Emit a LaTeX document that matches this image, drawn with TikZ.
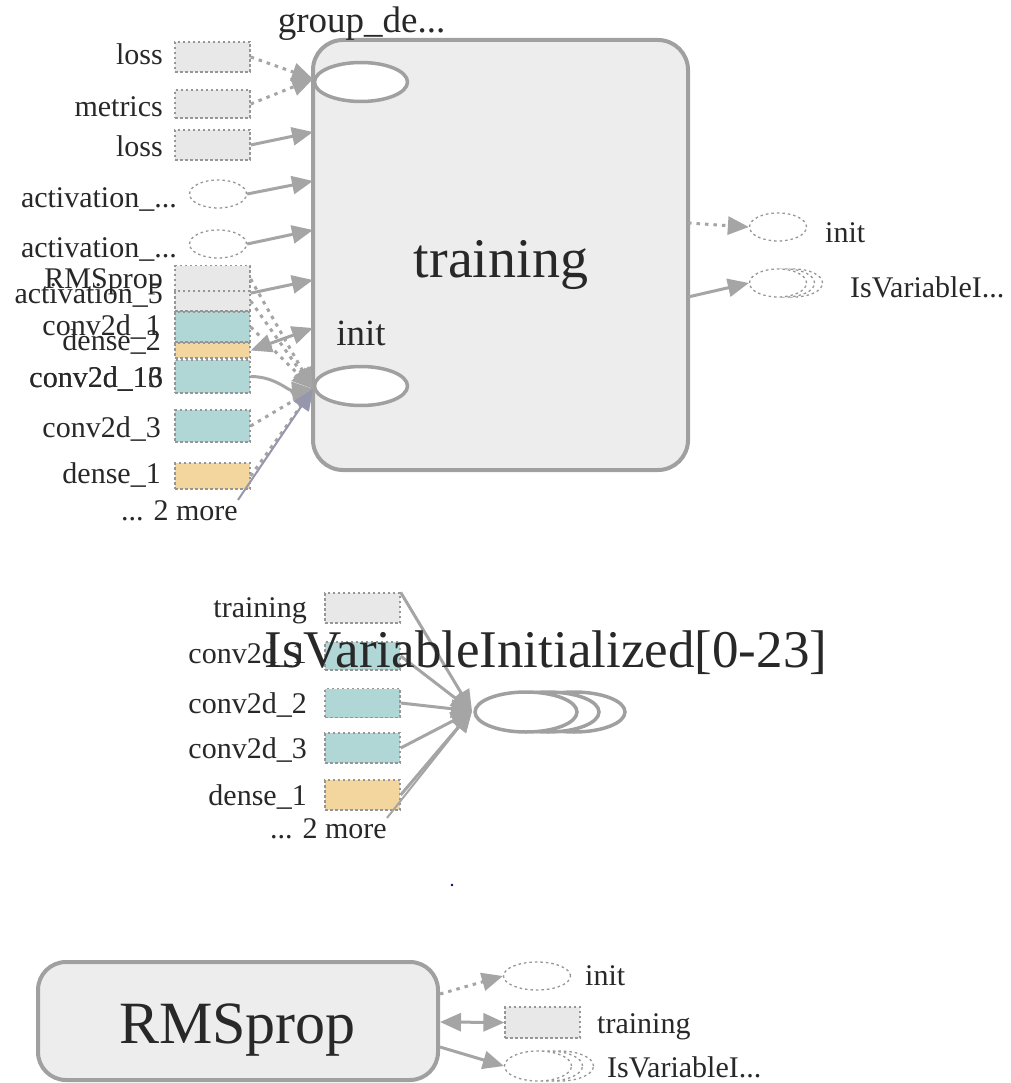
\documentclass[tikz,border=0pt]{standalone}
\usepackage{fontspec}
\setmainfont{Liberation Serif}
\usetikzlibrary{arrows.meta,shapes.geometric}

\definecolor{edgegray}{RGB}{165,165,165}
\definecolor{boxfill}{RGB}{237,237,237}
\definecolor{boxline}{RGB}{160,160,160}
\definecolor{opfill}{RGB}{232,232,232}
\definecolor{tealfill}{RGB}{176,214,214}
\definecolor{sandfill}{RGB}{243,214,158}
\definecolor{dotline}{RGB}{150,150,150}
\definecolor{ink}{RGB}{40,40,40}
\definecolor{morelink}{RGB}{150,150,172}

\begin{document}
\begin{tikzpicture}[x=1pt,y=-1pt,
  tipshape/.style={-{Triangle[length=21pt,width=18pt]}},
  bothtips/.style={{Triangle[length=21pt,width=18pt]}-{Triangle[length=21pt,width=18pt]}},
  flow/.style={draw=edgegray, line width=3pt, tipshape},
  dflow/.style={flow, dash pattern=on 3.5pt off 5pt},
  moreflow/.style={draw=morelink, line width=2pt, tipshape},
  opbox/.style={rectangle, draw=dotline, dash pattern=on 2.5pt off 2.5pt,
    line width=1.3pt, minimum width=75pt, inner sep=0pt, fill=opfill},
  tealbox/.style={opbox, fill=tealfill},
  sandbox/.style={opbox, fill=sandfill},
  opoval/.style={ellipse, draw=dotline, dash pattern=on 2.5pt off 3pt,
    line width=1.3pt, fill=white, minimum width=57pt, minimum height=28pt, inner sep=0pt},
  cluster/.style={rectangle, rounded corners=30pt, draw=boxline, line width=4pt, fill=boxfill},
  inoval/.style={ellipse, draw=boxline, line width=3.5pt, fill=white, inner sep=0pt},
  lbl/.style={font=\fontsize{30}{30}\selectfont, text=ink, inner sep=0pt},
  lblL/.style={lbl, anchor=base east},
  lblR/.style={lbl, anchor=base west},
  midlbl/.style={font=\fontsize{37}{37}\selectfont, text=ink, inner sep=0pt, anchor=base},
]
\fill[white] (0,0) rectangle (1010,1083);
\useasboundingbox (0,0) rectangle (1010,1083);

% ---------------- training cluster ----------------
\node[cluster, minimum width=375pt, minimum height=430pt] (train) at (500.5,255) {};
\node[font=\fontsize{56}{56}\selectfont, text=ink, inner sep=0pt, anchor=base] (trainlbl) at (501,277) {training};
\node[inoval, minimum width=93pt, minimum height=39pt] (grp) at (361,82) {};
\node[midlbl] (grplbl) at (361.5,33) {group\_de...};
\node[inoval, minimum width=93pt, minimum height=39pt] (ini) at (361,386) {};
\node[midlbl] (inilbl) at (361,345) {init};

% entry points on the cluster border
\coordinate (gIn) at (313,79);
\coordinate (pLoss) at (313,132);
\coordinate (pAct1) at (313,181);
\coordinate (pAct2) at (313,230);
\coordinate (pRms) at (313,280);
\coordinate (pDense) at (313,328);
\coordinate (iIn) at (313,389);
\coordinate (oInit) at (688,223);
\coordinate (oIsv) at (688,297);

% inputs on the left
\node[opbox, minimum height=30pt] (loss1) at (212.5,57) {};
\node[opbox, minimum height=28pt] (metr) at (212.5,104) {};
\node[opbox, minimum height=30pt] (loss2) at (212.5,145) {};
\node[opoval] (act1) at (218,194) {};
\node[opoval] (act2) at (218,244) {};
\node[opbox, minimum height=27pt] (rms) at (212.5,279) {};
\node[opbox, minimum height=20pt] (act5) at (212.5,301) {};
\node[tealbox, minimum height=30pt] (c1) at (212.5,327) {};
\node[sandbox, minimum height=15pt] (d2) at (212.5,350.5) {};
\node[tealbox, minimum height=33pt] (c16) at (212.5,376.5) {};
\node[tealbox, minimum height=32pt] (c3) at (212.5,426) {};
\node[sandbox, minimum height=26pt] (d1) at (212.5,476) {};

\node[lblL] (tloss1) at (163,65) {loss};
\node[lblL] (tmetr) at (163,117) {metrics};
\node[lblL] (tloss2) at (163,157) {loss};
\node[lblL] (tact1) at (177,208) {activation\_...};
\node[lblL] (tact2) at (177,257) {activation\_...};
\node[lblL] (trms) at (163,288) {RMSprop};
\node[lblL] (tact5) at (163,303) {activation\_5};
\node[lblL] (tc1) at (161,335) {conv2d\_1};
\node[lblL] (td2) at (161,350) {dense\_2};
\node[lblL] (tc16a) at (163,387) {conv2d\_16};
\node[lblL] (tc16b) at (163,387) {conv2d\_13};
\node[lblL] (tc3) at (161,437) {conv2d\_3};
\node[lblL] (td1) at (161,483) {dense\_1};
\node[lblL] (tmore) at (238,520) {... 2 more};

% connectors into the cluster
\draw[dflow] (loss1.east) -- (gIn);
\draw[dflow] (metr.east) -- (gIn);
\draw[flow] (loss2.east) -- (pLoss);
\draw[flow] (act1.east) -- (pAct1);
\draw[flow] (act2.east) -- (pAct2);
\draw[flow] (rms.south east) -- (pRms);
\draw[flow, bothtips] (d2.east) -- (pDense);
\draw[dflow] (rms.east) -- (iIn);
\draw[dflow] (act5.east) -- (iIn);
\draw[dflow] (c1.east) -- (iIn);
\draw[flow] (c16.east) to[out=0,in=185] (iIn);
\draw[dflow] (c3.east) -- (iIn);
\draw[dflow] (d1.east) -- (iIn);
\draw[moreflow] (tmore.north east) -- (iIn);

% outputs on the right
\node[opoval] (rInit) at (778,227) {};
\node[opoval] (rIsvC) at (794,283) {};
\node[opoval] (rIsvB) at (786,283) {};
\node[opoval] (rIsv) at (778,283) {};
\node[lblR] (trInit) at (825,243) {init};
\node[lblR] (trIsv) at (850,297) {IsVariableI...};
\draw[dflow] (oInit) -- (rInit.west);
\draw[flow] (oIsv) -- (rIsv.west);

% ---------------- IsVariableInitialized group ----------------
\node[opbox, minimum height=30pt] (mTr) at (362.5,608) {};
\node[tealbox, minimum height=28pt] (mC1) at (362.5,656) {};
\node[tealbox, minimum height=29pt] (mC2) at (362.5,703) {};
\node[tealbox, minimum height=30pt] (mC3) at (362.5,748) {};
\node[sandbox, minimum height=30pt] (mD1) at (362.5,795) {};

\node[lblL] (tmTr) at (307,617) {training};
\node[lblL] (tmC1) at (307,663) {conv2d\_1};
\node[lblL] (tmC2) at (307,713) {conv2d\_2};
\node[lblL] (tmC3) at (307,758) {conv2d\_3};
\node[lblL] (tmD1) at (307,805) {dense\_1};
\node[lblL] (tmMore) at (387,838) {... 2 more};

\node[inoval, minimum width=102pt, minimum height=40pt] (ivC) at (574,712) {};
\node[inoval, minimum width=102pt, minimum height=40pt] (ivB) at (548,712) {};
\node[inoval, minimum width=102pt, minimum height=40pt] (ivA) at (526,712) {};
\coordinate (mTip) at (472,711);

\draw[flow] (mTr.north east) -- (mTip);
\draw[flow] (mC1.east) -- (mTip);
\draw[flow] (mC2.east) -- (mTip);
\draw[flow] (mC3.east) -- (mTip);
\draw[flow] (mD1.east) -- (mTip);
\draw[flow, line width=2pt] (tmMore.north east) -- (mTip);

\node[font=\fontsize{53}{53}\selectfont, text=ink, inner sep=0pt, anchor=base] (ivTitle) at (546,667) {IsVariableInitialized[0-23]};

\fill[blue!40!black] (452,885) circle (1.3);

% ---------------- RMSprop ----------------
\node[cluster, rounded corners=28pt, minimum width=400pt, minimum height=118pt] (rmsbox) at (238,1021) {};
\node[font=\fontsize{60}{60}\selectfont, text=ink, inner sep=0pt, anchor=base] (rmslbl) at (237.5,1043) {RMSprop};

\node[opoval, minimum width=67pt] (bInit) at (537,976) {};
\node[opbox, minimum height=31pt] (bTr) at (542.5,1022.5) {};
\node[opoval, minimum width=67pt, minimum height=30pt] (bIsvC) at (560,1066) {};
\node[opoval, minimum width=67pt, minimum height=30pt] (bIsvB) at (549,1066) {};
\node[opoval, minimum width=67pt, minimum height=30pt] (bIsv) at (538,1066) {};
\node[lblR] (tbInit) at (585,985) {init};
\node[lblR] (tbTr) at (597,1033) {training};
\node[lblR] (tbIsv) at (607,1077) {IsVariableI...};

\coordinate (rOutA) at (440,994);
\coordinate (rOutB) at (440,1022);
\coordinate (rOutC) at (440,1047);
\draw[dflow] (rOutA) -- (bInit.west);
\draw[flow, bothtips] (rOutB) -- (bTr.west);
\draw[flow] (rOutC) -- (bIsv.west);
\end{tikzpicture}
\end{document}
